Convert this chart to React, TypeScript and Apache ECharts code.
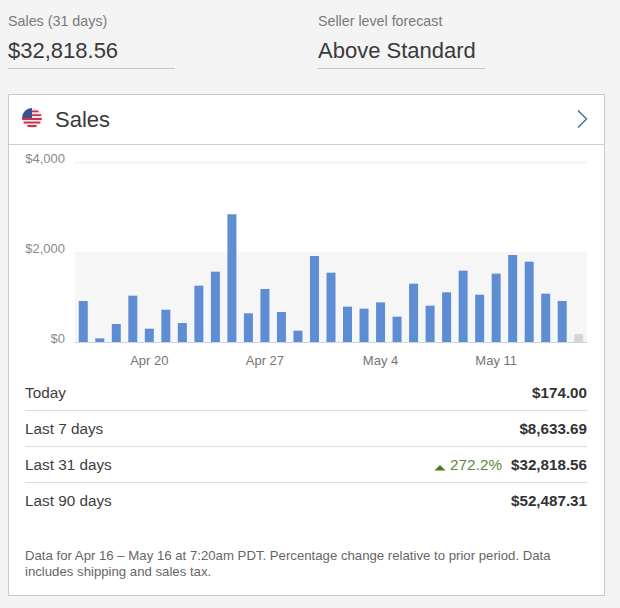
import React, { useEffect, useRef } from "react";
import * as echarts from "echarts";

const startDays = [
  "Apr 16","Apr 17","Apr 18","Apr 19","Apr 20","Apr 21","Apr 22","Apr 23","Apr 24","Apr 25","Apr 26",
  "Apr 27","Apr 28","Apr 29","Apr 30","May 1","May 2","May 3","May 4","May 5","May 6","May 7","May 8",
  "May 9","May 10","May 11","May 12","May 13","May 14","May 15","May 16",
];
const sales = [
  911, 81, 400, 1030, 296, 718, 422, 1252, 1563, 2837, 637, 1178, 667, 252, 1911, 1541,
  785, 741, 881, 563, 1296, 807, 1104, 1585, 1052, 1519, 1933, 1785, 1074, 911, 174,
];
const tickedDays = ["Apr 20", "Apr 27", "May 4", "May 11"];
const rowLabels = ["Today", "Last 7 days", "Last 31 days", "Last 90 days"];
const rowValues = ["$174.00", "$8,633.69", "$32,818.56", "$52,487.31"];
const changeText = "272.2%";
const noteLines = [
  "Data for Apr 16 – May 16 at 7:20am PDT. Percentage change relative to prior period. Data",
  "includes shipping and sales tax.",
];

const FONT = '"Liberation Sans", Arial, sans-serif';
const txt = (text: string, x: number, y: number, size: number, fill: string, extra: any = {}) => ({
  type: "text",
  x,
  y,
  style: {
    text,
    fill,
    font: `${extra.weight || "normal"} ${size}px ${FONT}`,
    align: extra.align || "left",
    verticalAlign: "middle",
  },
});
const line = (x1: number, x2: number, y: number, stroke: string, lineWidth = 1) => ({
  type: "line",
  shape: { x1, y1: y, x2, y2: y },
  style: { stroke, lineWidth },
});

function flag(cx: number, cy: number, r: number) {
  const stripes = [-7.6, -3.8, 0, 3.6, 7].map((dy) => {
    const edge = Math.max(Math.abs(dy), Math.abs(dy + 1.9));
    const half = Math.sqrt(Math.max(0, r * r - edge * edge));
    return {
      type: "rect",
      shape: { x: cx - half, y: cy + dy, width: half * 2, height: 1.9 },
      style: { fill: "#c9344f" },
    };
  });
  return [
    { type: "circle", shape: { cx, cy, r }, style: { fill: "#f3e6ea" } },
    ...stripes,
    {
      type: "sector",
      shape: { cx, cy, r, r0: 0, startAngle: Math.PI, endAngle: Math.PI * 1.5 },
      style: { fill: "#3c4f8e" },
    },
  ];
}

export default function App() {
  const ref = useRef<HTMLDivElement>(null);
  useEffect(() => {
    const chart = echarts.init(ref.current!, undefined, { renderer: "svg" });
    const rowY = [392.5, 428.5, 464.5, 500.5];
    chart.setOption({
      animation: false,
      backgroundColor: "#f4f4f4",
      textStyle: { fontFamily: FONT },
      grid: { left: 75, right: 33, top: 162, height: 180 },
      xAxis: {
        type: "category",
        data: startDays,
        axisLine: { show: true, lineStyle: { color: "#c6d6ec", width: 1 } },
        axisTick: { show: false },
        axisLabel: {
          color: "#757575",
          fontSize: 13,
          margin: 12,
          fontFamily: FONT,
          interval: (_: number, v: string) => tickedDays.includes(v),
        },
      },
      yAxis: {
        type: "value",
        min: 0,
        max: 4000,
        interval: 2000,
        axisLine: { show: false },
        axisTick: { show: false },
        splitLine: { show: false },
        splitArea: { show: true, areaStyle: { color: ["#f6f6f6", "#ffffff"] } },
        axisLabel: {
          color: "#8a8a8a",
          fontSize: 13,
          margin: 10,
          fontFamily: FONT,
          verticalAlign: "bottom",
          lineHeight: 8,
          formatter: (v: number) => "$" + v.toLocaleString("en-US"),
        },
      },
      series: [
        {
          type: "bar",
          barWidth: 9,
          data: sales.map((v, i) =>
            i === sales.length - 1 ? { value: v, itemStyle: { color: "#d6d6d6" } } : v
          ),
          itemStyle: { color: "#5f8dd3" },
          markLine: {
            silent: true,
            symbol: "none",
            label: { show: false },
            lineStyle: { color: "#f6f6f6", width: 3, type: "solid" },
            data: [{ yAxis: 4000 }],
          },
        },
      ],
      graphic: [
        {
          type: "group",
          z: -5,
          children: [
            {
              type: "rect",
              shape: { x: 8.5, y: 94.5, width: 596, height: 501 },
              style: { fill: "#ffffff", stroke: "#c9c9c9", lineWidth: 1 },
            },
            line(9, 604, 144.5, "#cfcfcf"),
          ],
        },
        {
          type: "group",
          children: [
            txt("Sales (31 days)", 8, 21, 14.3, "#7a7a7a"),
            txt("$32,818.56", 8, 50.5, 22, "#3a3a3a"),
            line(8, 175, 68.5, "#c6c6c6"),
            txt("Seller level forecast", 318, 21, 14.25, "#7a7a7a"),
            txt("Above Standard", 318, 50.5, 22, "#3a3a3a"),
            line(318, 485, 68.5, "#c6c6c6"),
            ...flag(32, 118, 10),
            txt("Sales", 55, 119, 22, "#3a3a3a"),
            {
              type: "polyline",
              shape: { points: [[578, 110.5], [586.5, 119], [578, 127.5]] },
              style: { stroke: "#3f6f92", lineWidth: 1.4, fill: "none" },
            },
            ...rowLabels.map((t, i) => txt(t, 25, rowY[i], 15.3, "#404040")),
            ...rowValues.map((t, i) => txt(t, 587, rowY[i], 15.2, "#333333", { align: "right", weight: "bold" })),
            line(25, 587, 410.5, "#dcdcdc"),
            line(25, 587, 446.5, "#dcdcdc"),
            line(25, 587, 482.5, "#dcdcdc"),
            {
              type: "polygon",
              shape: { points: [[434.5, 470.5], [445.5, 470.5], [440, 465]] },
              style: { fill: "#4a7a1e" },
            },
            txt(changeText, 502, rowY[2], 15.3, "#5f8a3c", { align: "right" }),
            txt(noteLines[0], 25, 555.5, 13.2, "#666666"),
            txt(noteLines[1], 25, 571, 13.2, "#666666"),
          ],
        },
      ],
    });
    return () => chart.dispose();
  }, []);
  return <div ref={ref} style={{ position: "absolute", left: 0, top: 0, width: 620, height: 608 }} />;
}
